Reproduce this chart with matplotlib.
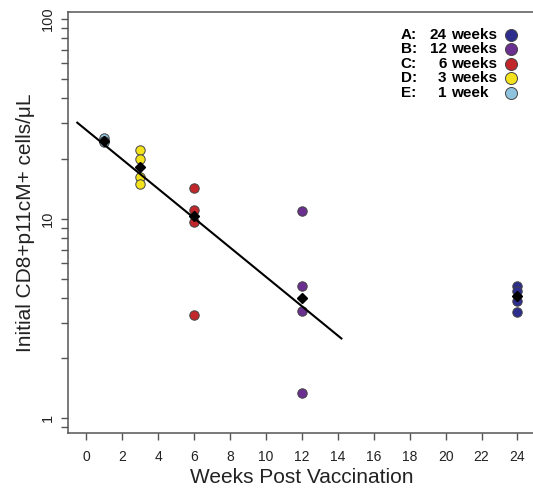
import numpy as np
import matplotlib
matplotlib.use('Agg')
import matplotlib.pyplot as plt

plt.rcParams['font.family'] = ['Liberation Sans', 'DejaVu Sans']

# values (cells/uL), grouped by weeks post vaccination
weeks = [1, 3, 6, 12, 24]
week1_vals = [25.3, 24.5, 24.2]
week3_vals = [22.0, 20.0, 16.1, 14.9]
week6_vals = [14.2, 11.1, 9.6, 3.3]
week12_vals = [10.9, 4.6, 3.45, 1.34]
week24_vals = [4.6, 4.35, 3.87, 3.42]
group_colors = ['#8fc3dd', '#f4e31c', '#c1262b', '#6b2f8f', '#2d2d8e']

legend_letters = ['A:', 'B:', 'C:', 'D:', 'E:']
legend_nums = ['24', '12', '6', '3', '1']
legend_units = ['weeks', 'weeks', 'weeks', 'weeks', 'week']
legend_colors = ['#2d2d8e', '#6b2f8f', '#c1262b', '#f4e31c', '#8fc3dd']

fit_max_week = 12          # regression uses weeks 1-12 only
fit_x_range = [-0.5, 14.2]

groups = [week1_vals, week3_vals, week6_vals, week12_vals, week24_vals]

fig = plt.figure(figsize=(5.33, 4.96), dpi=100)
ax = fig.add_axes([0.1281, 0.1264, 0.8765, 0.8484])
ax.set_yscale('log')
ax.set_xlim(-1, 25)
ax.set_ylim(0.841, 107.8)

# individual points
for wk, vals, col in zip(weeks, groups, group_colors):
    ax.scatter([wk] * len(vals), vals, s=46, color=col, edgecolor='#444444',
               linewidth=0.7, zorder=3)

# log-linear regression line
fx, fy = [], []
for wk, vals in zip(weeks, groups):
    if wk <= fit_max_week:
        fx += [wk] * len(vals)
        fy += list(np.log10(vals))
slope, icpt = np.polyfit(fx, fy, 1)
lx = np.array(fit_x_range)
ax.plot(lx, 10 ** (icpt + slope * lx), color='black', lw=1.5, zorder=4)

# medians
meds = [np.median(v) for v in groups]
ax.plot(weeks, meds, 'D', color='black', markersize=5, linestyle='none', zorder=5)

# axes styling (R-like)
for s in ['top', 'right', 'left', 'bottom']:
    ax.spines[s].set_color('#555555')
    ax.spines[s].set_linewidth(1.1)
ax.set_xticks(range(0, 25, 2))
ax.set_yticks([1, 10, 100])
ax.set_yticklabels(['1', '10', '100'], rotation=90, va='center')
ax.tick_params(axis='both', which='both', direction='out', length=5,
               width=1.0, color='#555555')
ax.tick_params(axis='x', labelsize=10, pad=7, labelcolor='#222222')
ax.tick_params(axis='y', labelsize=10.5, pad=5, labelcolor='#222222')
ax.yaxis.set_minor_formatter(matplotlib.ticker.NullFormatter())

ax.set_xlabel('Weeks Post Vaccination', fontsize=15, color='#222222', labelpad=3)
ax.set_ylabel('Initial CD8+p11cM+ cells/μL', fontsize=15, color='#222222', labelpad=4)

# legend block
row_y = [0.9465, 0.9123, 0.8780, 0.8438, 0.8096]
for i in range(5):
    y = row_y[i]
    ax.text(0.7115, y, legend_letters[i], transform=ax.transAxes, fontsize=11,
            fontweight='bold', ha='left', va='center')
    ax.text(0.8099, y, legend_nums[i], transform=ax.transAxes, fontsize=11,
            fontweight='bold', ha='right', va='center')
    ax.text(0.8185, y, legend_units[i], transform=ax.transAxes, fontsize=11,
            fontweight='bold', ha='left', va='center')
    ax.scatter([0.9469], [y], s=75, color=legend_colors[i], edgecolor='#444444',
               linewidth=0.7, transform=ax.transAxes, clip_on=False, zorder=3)

fig.savefig('out.png', dpi=100)
